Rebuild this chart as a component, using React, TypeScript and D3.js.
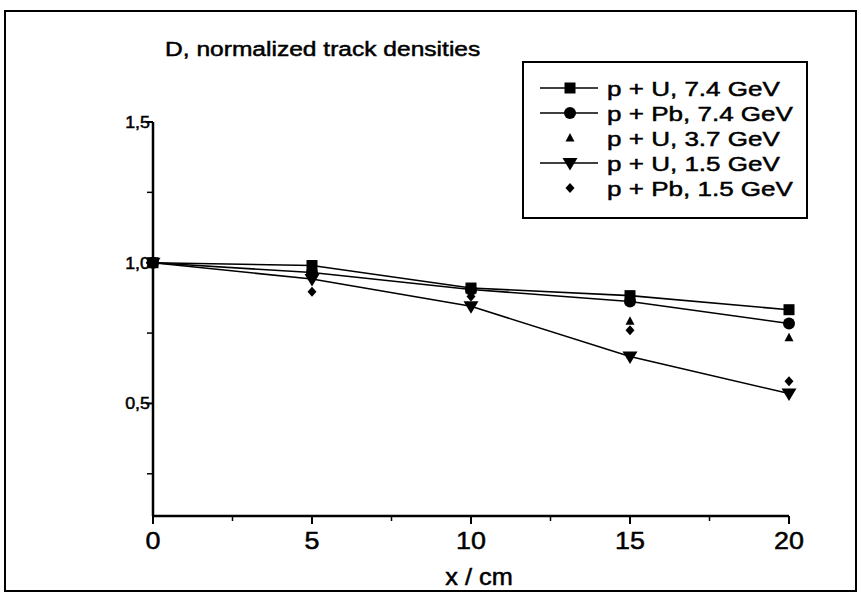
import React from "react";
import * as d3 from "d3";

const xPositions = [0, 5, 10, 15, 20];
const seriesNames = [
  "p + U, 7.4 GeV",
  "p + Pb, 7.4 GeV",
  "p + U, 3.7 GeV",
  "p + U, 1.5 GeV",
  "p + Pb, 1.5 GeV",
];
const pU74 = [1.0, 0.99, 0.91, 0.883, 0.833];
const pPb74 = [1.0, 0.965, 0.905, 0.862, 0.784];
const pU37 = [1.0, 0.96, 0.9, 0.792, 0.733];
const pU15 = [1.0, 0.942, 0.845, 0.667, 0.535];
const pPb15 = [1.0, 0.897, 0.88, 0.76, 0.579];
const seriesValues = [pU74, pPb74, pU37, pU15, pPb15];
const seriesSymbols = ["square", "circle", "triangle", "invtriangle", "diamond"];
const seriesHasLine = [true, true, false, true, false];
const xTicks = [0, 5, 10, 15, 20];
const xMinorTicks = [2.5, 7.5, 12.5, 17.5];
const yTicks = [0.5, 1.0, 1.5];
const yTickLabels = ["0,5", "1,0", "1,5"];
const yMinorTicks = [0.25, 0.75, 1.25];
const title = "D, normalized track densities";
const xLabel = "x / cm";

const FONT = "'Liberation Sans', Arial, Helvetica, sans-serif";

function Marker({ type, x, y }: { type: string; x: number; y: number }) {
  if (type === "square") return <rect x={x - 5.5} y={y - 5.5} width={11} height={11} fill="#000" />;
  if (type === "circle") return <circle cx={x} cy={y} r={6} fill="#000" />;
  if (type === "triangle")
    return <path d={`M${x},${y - 5}L${x + 4.5},${y + 3.5}L${x - 4.5},${y + 3.5}Z`} fill="#000" />;
  if (type === "invtriangle")
    return <path d={`M${x - 7.5},${y - 5}L${x + 7.5},${y - 5}L${x},${y + 7.5}Z`} fill="#000" />;
  return <path d={`M${x},${y - 5}L${x + 4.5},${y}L${x},${y + 5}L${x - 4.5},${y}Z`} fill="#000" />;
}

function SText({ x, y, size, sx, anchor, children }: any) {
  return (
    <text
      transform={`translate(${x},${y}) scale(${sx},1)`}
      fontFamily={FONT}
      fontSize={size}
      textAnchor={anchor || "start"}
      fill="#000"
      stroke="#000"
      strokeWidth={0.5}
    >
      {children}
    </text>
  );
}

export default function App() {
  const W = 861, H = 597;
  const x = d3.scaleLinear().domain([0, 20]).range([153, 789]);
  const y = d3.scaleLinear().domain([0.1, 1.5]).range([516, 122]);
  const line = d3
    .line<number>()
    .x((_, i) => x(xPositions[i]))
    .y((d) => y(d));

  const legX = 523, legY = 62, legW = 284, legH = 156;
  const rowH = 25;

  return (
    <svg
      width={W}
      height={H}
      style={{ position: "absolute", left: 0, top: 0, background: "#fff" }}
    >
      <rect x={0} y={0} width={W} height={H} fill="#fff" />
      <rect x={5} y={11} width={851} height={580} fill="none" stroke="#000" strokeWidth={2} />

      {/* axes */}
      <line x1={x(0)} x2={x(20)} y1={516} y2={516} stroke="#000" strokeWidth={2.5} />
      <line x1={153} x2={153} y1={y(1.5)} y2={516} stroke="#000" strokeWidth={2.5} />
      {xTicks.map((t) => (
        <g key={"xt" + t}>
          <line x1={x(t)} x2={x(t)} y1={516} y2={524} stroke="#000" strokeWidth={2} />
          <SText x={x(t)} y={549} size={24} sx={1.12} anchor="middle">
            {t}
          </SText>
        </g>
      ))}
      {xMinorTicks.map((t) => (
        <line key={"xm" + t} x1={x(t)} x2={x(t)} y1={516} y2={521} stroke="#000" strokeWidth={1.5} />
      ))}
      {yTicks.map((t, i) => (
        <g key={"yt" + t}>
          <line x1={146} x2={153} y1={y(t)} y2={y(t)} stroke="#000" strokeWidth={2} />
          <SText x={150} y={y(t) + 6} size={17} sx={1.05} anchor="end">
            {yTickLabels[i]}
          </SText>
        </g>
      ))}
      {yMinorTicks.map((t) => (
        <line key={"ym" + t} x1={147} x2={153} y1={y(t)} y2={y(t)} stroke="#000" strokeWidth={1.5} />
      ))}

      <SText x={479} y={585} size={23} sx={1.1} anchor="middle">
        {xLabel}
      </SText>
      <SText x={165} y={56} size={21} sx={1.17}>
        {title}
      </SText>

      {/* data */}
      {seriesValues.map((vals, si) =>
        seriesHasLine[si] ? (
          <path key={"l" + si} d={line(vals) || ""} fill="none" stroke="#000" strokeWidth={1.6} />
        ) : null
      )}
      {seriesValues.map((vals, si) =>
        vals.map((v, i) => (
          <Marker key={`m${si}-${i}`} type={seriesSymbols[si]} x={x(xPositions[i])} y={y(v)} />
        ))
      )}

      {/* legend */}
      <rect x={legX} y={legY} width={legW} height={legH} fill="#fff" stroke="#000" strokeWidth={2} />
      {seriesNames.map((name, i) => {
        const cy = legY + 26 + i * rowH;
        return (
          <g key={"lg" + i}>
            {seriesHasLine[i] && (
              <line x1={540} x2={598} y1={cy} y2={cy} stroke="#000" strokeWidth={1.6} />
            )}
            <Marker type={seriesSymbols[i]} x={570} y={cy} />
            <SText x={607} y={cy + 7.5} size={21} sx={1.24}>
              {name}
            </SText>
          </g>
        );
      })}
    </svg>
  );
}
